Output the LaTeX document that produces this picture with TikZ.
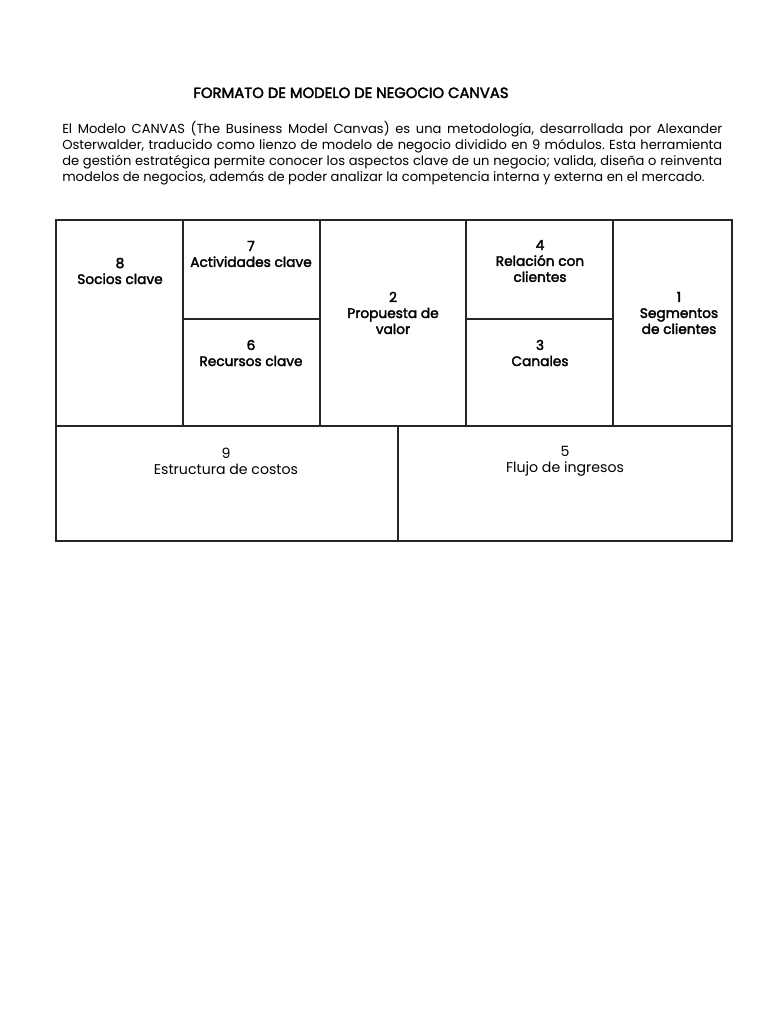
\documentclass[tikz,border=0pt]{standalone}
\usepackage{fontspec}
\setmainfont{Poppins}
\newfontfamily\semibold[FakeBold=2.4]{Poppins}
\usepackage{tikz}
\usetikzlibrary{positioning}

\tikzset{
  grid line/.style={line width=0.9pt,black!85},
  cell label/.style={align=center,font=\fontsize{10.3}{12}\selectfont\semibold,inner sep=0pt},
  low label/.style={align=center,font=\fontsize{10.6}{12}\selectfont,inner sep=0pt}
}

\begin{document}
\begin{tikzpicture}[x=0.75pt,y=-0.75pt]
\useasboundingbox[fill=white] (0,0) rectangle (768,1024);

% title and intro
\node[font=\fontsize{11.1}{12}\selectfont\semibold,anchor=base] (title) at (351,98) {FORMATO DE MODELO DE NEGOCIO CANVAS};
\node[anchor=north west,inner sep=0pt,text width=495pt,align=justify,
      font=\fontsize{9.8}{12}\selectfont] (intro) at (62,121)
  {\frenchspacing\hyphenpenalty10000\relax\parfillskip0pt\relax
   El Modelo CANVAS (The Business Model Canvas) es una metodología, desarrollada por Alexander\linebreak
   Osterwalder, traducido como lienzo de modelo de negocio dividido en 9 módulos. Esta herramienta\linebreak
   de gestión estratégica permite conocer los aspectos clave de un negocio; valida, diseña o reinventa\linebreak
   modelos de negocios, además de poder analizar la competencia interna y externa en el mercado.};

% canvas grid
\coordinate (nw) at (56,220);
\coordinate (se) at (732,541);
\draw[grid line] (nw) rectangle (se);
\draw[grid line] (56,426) -- (732,426);
\draw[grid line] (183,220) -- (183,426);
\draw[grid line] (320,220) -- (320,426);
\draw[grid line] (466,220) -- (466,426);
\draw[grid line] (613,220) -- (613,426);
\draw[grid line] (183,319) -- (320,319);
\draw[grid line] (466,319) -- (613,319);
\draw[grid line] (398,426) -- (398,541);

% module labels
\node[cell label] (socios) at (120,271) {8\\Socios clave};
\node[cell label] (actividades) at (251,254) {7\\Actividades clave};
\node[cell label] (recursos) at (251,353) {6\\Recursos clave};
\node[cell label] (propuesta) at (393,313) {2\\Propuesta de\\valor};
\node[cell label] (relacion) at (540,261) {4\\Relación con\\clientes};
\node[cell label] (canales) at (540,353) {3\\Canales};
\node[cell label] (segmentos) at (679,313) {1\\Segmentos\\de clientes};
\node[low label] (costos) at (226,461) {9\\Estructura de costos};
\node[low label] (ingresos) at (565,461) {5\\Flujo de ingresos};
\end{tikzpicture}
\end{document}
